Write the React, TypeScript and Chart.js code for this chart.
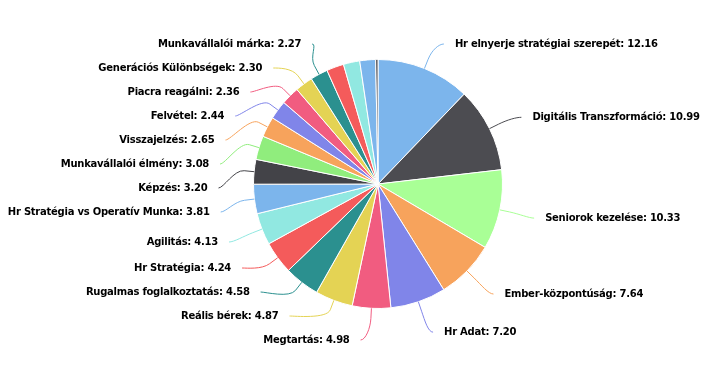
import React, { useEffect, useRef } from 'react';
import { Chart, registerables } from 'chart.js';

Chart.register(...registerables);

const categories: string[] = [
  'Hr elnyerje stratégiai szerepét',
  'Digitális Transzformáció',
  'Seniorok kezelése',
  'Ember-központúság',
  'Hr Adat',
  'Megtartás',
  'Reális bérek',
  'Rugalmas foglalkoztatás',
  'Hr Stratégia',
  'Agilitás',
  'Hr Stratégia vs Operatív Munka',
  'Képzés',
  'Munkavállalói élmény',
  'Visszajelzés',
  'Felvétel',
  'Piacra reagálni',
  'Generációs Különbségek',
  'Munkavállalói márka',
  'Egyéb 1',
  'Egyéb 2',
  'Egyéb 3',
  'Egyéb 4',
];

const values: number[] = [
  12.16, 10.99, 10.33, 7.64, 7.2, 4.98, 4.87, 4.58, 4.24, 4.13, 3.81, 3.2, 3.08,
  2.65, 2.44, 2.36, 2.3, 2.27, 2.24, 2.12, 2.05, 0.3,
];

const colors: string[] = [
  '#7cb5ec', '#4c4c51', '#a9ff96', '#f7a35c', '#8085e9', '#f15c80', '#e4d354',
  '#2b908f', '#f45b5b', '#91e8e1', '#7cb5ec', '#434348', '#90ed7d', '#f7a35c',
  '#8085e9', '#f15c80', '#e4d354', '#2b908f', '#f45b5b', '#91e8e1', '#7cb5ec',
  '#434348',
];

const LABEL_FONT = 'bold 10px "DejaVu Sans", Verdana, sans-serif';
const LABEL_SIZE = 24;

type Item = {
  i: number;
  mid: number;
  target: number;
  y: number;
  left: boolean;
  value: number;
};

function distribute(items: Item[], minC: number, maxC: number, size: number) {
  items.sort((a, b) => a.target - b.target);
  type G = { items: Item[]; sum: number; pos: number };
  const place = (g: G) => {
    const n = g.items.length;
    const mean = g.sum / n;
    let top = mean - ((n - 1) * size) / 2;
    top = Math.max(minC, Math.min(maxC - (n - 1) * size, top));
    g.pos = top;
  };
  const groups: G[] = items.map((it) => ({ items: [it], sum: it.target, pos: 0 }));
  groups.forEach(place);
  let changed = true;
  while (changed) {
    changed = false;
    for (let k = 0; k < groups.length - 1; k++) {
      const a = groups[k];
      const b = groups[k + 1];
      if (a.pos + a.items.length * size > b.pos + 0.001) {
        a.items = a.items.concat(b.items);
        a.sum += b.sum;
        groups.splice(k + 1, 1);
        place(a);
        changed = true;
        break;
      }
    }
  }
  groups.forEach((g) => g.items.forEach((it, k) => (it.y = g.pos + k * size)));
}

const outsideLabels = {
  id: 'outsideLabels',
  afterDraw(chart: any) {
    const meta = chart.getDatasetMeta(0);
    const ctx: CanvasRenderingContext2D = chart.ctx;
    const arcs = meta.data;
    if (!arcs.length) return;
    const p0 = arcs[0].getProps(['x', 'y', 'outerRadius'], true);
    const cx = p0.x;
    const cy = p0.y;
    const r = p0.outerRadius;
    const dist = 30;
    const lcy = cy + 2;
    const items: Item[] = arcs.map((arc: any, i: number) => {
      const p = arc.getProps(['startAngle', 'endAngle'], true);
      const mid = (p.startAngle + p.endAngle) / 2;
      return {
        i,
        mid,
        target: lcy + (r + dist) * Math.sin(mid),
        y: 0,
        left: Math.cos(mid) < 0,
        value: values[i],
      };
    });
    const minC = cy - 140;
    const maxC = cy + 156;
    const capacity = Math.floor((maxC - minC) / LABEL_SIZE) + 1;
    const rl = r + dist;

    ctx.save();
    ctx.font = LABEL_FONT;
    (ctx as any).letterSpacing = '-0.25px';
    ctx.textBaseline = 'middle';
    [true, false].forEach((leftSide) => {
      let side = items.filter((it) => it.left === leftSide);
      if (side.length > capacity) {
        const keep = side
          .slice()
          .sort((a, b) => b.value - a.value)
          .slice(0, capacity);
        side = side.filter((it) => keep.includes(it));
      }
      distribute(side, minC, maxC, LABEL_SIZE);
      side.forEach((it) => {
        const dy = Math.max(-rl, Math.min(rl, it.y - lcy));
        const dx = Math.sqrt(Math.max(0, rl * rl - dy * dy)) + 5;
        const s = leftSide ? -1 : 1;
        const ax = cx + s * dx;
        const cosM = Math.cos(it.mid);
        const sinM = Math.sin(it.mid);
        const ex = cx + r * cosM;
        const ey = cy + r * sinM;
        const p2x = cx + (r + 10) * cosM;
        const p2y = cy + (r + 10) * sinM;
        const c2x = cx + (r + 20) * cosM;
        const c2y = cy + (r + 20) * sinM;
        ctx.beginPath();
        ctx.moveTo(ax, it.y);
        ctx.bezierCurveTo(ax - s * 5, it.y, c2x, c2y, p2x, p2y);
        ctx.lineTo(ex, ey);
        ctx.strokeStyle = colors[it.i];
        ctx.lineWidth = 1;
        ctx.stroke();
        ctx.fillStyle = '#000000';
        ctx.textAlign = leftSide ? 'right' : 'left';
        ctx.fillText(
          `${categories[it.i]}: ${values[it.i].toFixed(2)}`,
          ax + s * 11,
          it.y
        );
      });
    });
    ctx.restore();
  },
};

export default function App() {
  const ref = useRef<HTMLCanvasElement | null>(null);
  useEffect(() => {
    if (!ref.current) return;
    const chart = new Chart(ref.current, {
      type: 'pie',
      data: {
        labels: categories,
        datasets: [
          {
            data: values,
            backgroundColor: colors,
            borderColor: '#ffffff',
            borderWidth: 1,
          },
        ],
      },
      options: {
        animation: false,
        responsive: false,
        maintainAspectRatio: false,
        layout: { padding: { top: 59, bottom: 82, left: 228, right: 196 } },
        plugins: {
          legend: { display: false },
          tooltip: { enabled: false },
        },
      },
      plugins: [outsideLabels],
    });
    return () => chart.destroy();
  }, []);
  return (
    <div style={{ position: 'fixed', left: 0, top: 0, width: 724, height: 391, background: '#fff' }}>
      <canvas ref={ref} width={724} height={391} style={{ width: 724, height: 391 }} />
    </div>
  );
}
